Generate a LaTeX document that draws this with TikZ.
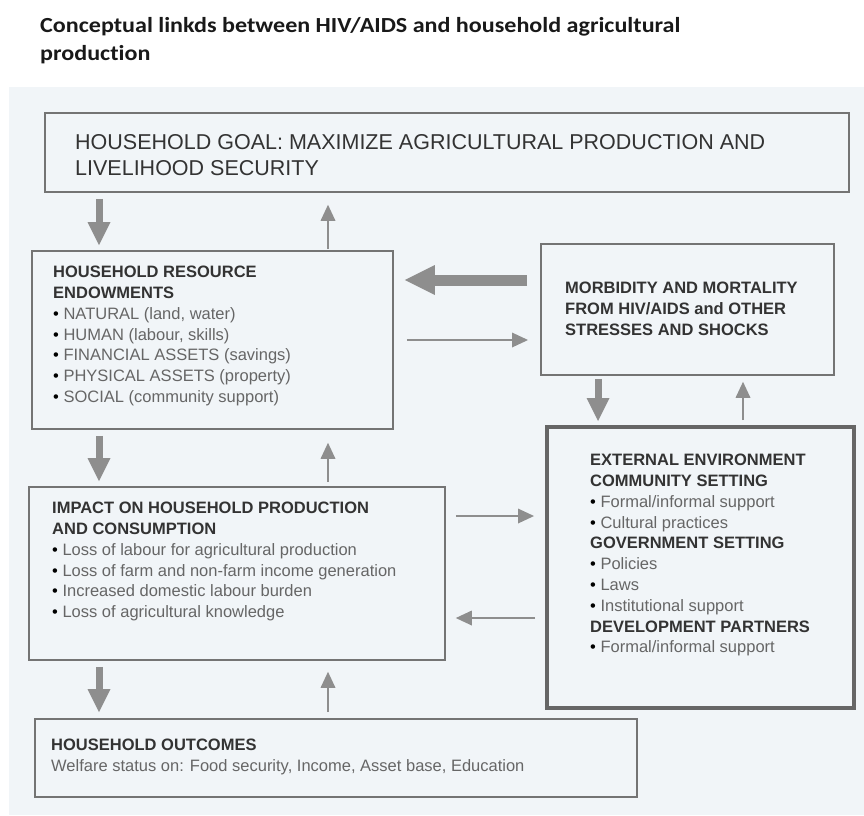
\documentclass[tikz,border=0pt]{standalone}
\usepackage{fontspec}
\setmainfont{Liberation Sans}
\newfontfamily\titlefont[Ligatures=NoCommon,FakeStretch=1.12]{Carlito}
\usetikzlibrary{arrows.meta}
\definecolor{panel}{HTML}{F1F5F8}
\definecolor{boxgray}{HTML}{747474}
\definecolor{extgray}{HTML}{666666}
\definecolor{arrowgray}{HTML}{8E8E8E}
\definecolor{headtxt}{HTML}{333333}
\definecolor{bodytxt}{HTML}{666666}
\newcommand\bitem[1]{{\color{black}\textbullet}~{\color{bodytxt}#1}}
\tikzset{
  box/.style={draw=boxgray, line width=1.8pt, anchor=north west, inner sep=0pt},
  extbox/.style={draw=extgray, line width=4pt, anchor=north west, inner sep=0pt},
  boxtext/.style={anchor=north west, inner sep=0pt, align=left, text=headtxt,
    font=\fontsize{16.5}{20.8}\selectfont},
  bigarrow/.style={draw=arrowgray, line width=7pt,
    -{Triangle[length=23pt,width=23pt,line width=0pt]}},
  hugearrow/.style={draw=arrowgray, line width=11pt,
    -{Triangle[length=30pt,width=30pt,line width=0pt]}},
  thinarrow/.style={draw=arrowgray, line width=1.5pt,
    -{Triangle[length=16pt,width=15pt,line width=0pt]}}
}
\begin{document}
\begin{tikzpicture}[x=1pt,y=-1pt]
\useasboundingbox (0,0) rectangle (864,815);
\fill[white] (0,0) rectangle (864,815);
\fill[panel] (9,87) rectangle (864,815);

% title
\node[anchor=north west, inner sep=0pt, align=left, text=black!90,
  font=\titlefont\bfseries\fontsize{21.5}{28}\selectfont] (title) at (40,17.5)
  {Conceptual linkds between HIV/AIDS and household agricultural\\production};

% boxes
\node[box, minimum width=804pt, minimum height=79pt] (goal) at (44,112) {};
\node[box, minimum width=361pt, minimum height=178pt] (res) at (31,250) {};
\node[box, minimum width=293pt, minimum height=131pt] (morb) at (540,243) {};
\node[box, minimum width=416pt, minimum height=173pt] (imp) at (28,486) {};
\node[extbox, minimum width=307pt, minimum height=281pt] (ext) at (545,425) {};
\node[box, minimum width=602pt, minimum height=78pt] (out) at (34,718) {};

% texts
\node[anchor=north west, inner sep=0pt, align=left, text=headtxt,
  font=\fontsize{21.5}{26}\selectfont] (goalt) at (75,134.5)
  {HOUSEHOLD GOAL: MAXIMIZE AGRICULTURAL PRODUCTION AND\\LIVELIHOOD SECURITY};
\node[boxtext] (rest) at (53,266)
  {\textbf{HOUSEHOLD RESOURCE}\\\textbf{ENDOWMENTS}\\
   \bitem{NATURAL (land, water)}\\
   \bitem{HUMAN (labour, skills)}\\
   \bitem{FINANCIAL ASSETS (savings)}\\
   \bitem{PHYSICAL ASSETS (property)}\\
   \bitem{SOCIAL (community support)}};
\node[boxtext] (morbt) at (565,282)
  {\textbf{MORBIDITY AND MORTALITY}\\\textbf{FROM HIV/AIDS and OTHER}\\\textbf{STRESSES AND SHOCKS}};
\node[boxtext] (impt) at (52,502)
  {\textbf{IMPACT ON HOUSEHOLD PRODUCTION}\\\textbf{AND CONSUMPTION}\\
   \bitem{Loss of labour for agricultural production}\\
   \bitem{Loss of farm and non-farm income generation}\\
   \bitem{Increased domestic labour burden}\\
   \bitem{Loss of agricultural knowledge}};
\node[boxtext] (extt) at (590,454)
  {\textbf{EXTERNAL ENVIRONMENT}\\\textbf{COMMUNITY SETTING}\\
   \bitem{Formal/informal support}\\
   \bitem{Cultural practices}\\
   \textbf{GOVERNMENT SETTING}\\
   \bitem{Policies}\\
   \bitem{Laws}\\
   \bitem{Institutional support}\\
   \textbf{DEVELOPMENT PARTNERS}\\
   \bitem{Formal/informal support}};
\node[boxtext] (outt) at (51,739)
  {\textbf{HOUSEHOLD OUTCOMES}\\{\color{bodytxt}Welfare status on: Food security, Income, Asset base, Education}};

% reference coordinates for arrow positions
\coordinate (xl) at (99,0);
\coordinate (xr) at (328,0);
\coordinate (xm) at (598,0);
\coordinate (xe) at (743,0);
\coordinate (ya) at (0,280);
\coordinate (yb) at (0,340);
\coordinate (yc) at (0,516);
\coordinate (yd) at (0,618);

% connectors
\draw[bigarrow, shorten <=6pt, shorten >=5pt] (goal.south -| xl) -- (res.north -| xl);
\draw[thinarrow, shorten <=1pt, shorten >=12pt] (res.north -| xr) -- (goal.south -| xr);
\draw[bigarrow, shorten <=6pt, shorten >=5pt] (res.south -| xl) -- (imp.north -| xl);
\draw[thinarrow, shorten <=4pt, shorten >=13pt] (imp.north -| xr) -- (res.south -| xr);
\draw[bigarrow, shorten <=6pt, shorten >=6pt] (imp.south -| xl) -- (out.north -| xl);
\draw[thinarrow, shorten <=6pt, shorten >=11pt] (out.north -| xr) -- (imp.south -| xr);
\draw[hugearrow, shorten <=13pt, shorten >=11pt] (morb.west |- ya) -- (res.east |- ya);
\draw[thinarrow, shorten <=13pt, shorten >=12pt] (res.east |- yb) -- (morb.west |- yb);
\draw[thinarrow, shorten <=10pt, shorten >=11pt] (imp.east |- yc) -- (ext.west |- yc);
\draw[thinarrow, shorten <=10pt, shorten >=10pt] (ext.west |- yd) -- (imp.east |- yd);
\draw[bigarrow, shorten <=3pt, shorten >=4pt] (morb.south -| xm) -- (ext.north -| xm);
\draw[thinarrow, shorten <=5pt, shorten >=6pt] (ext.north -| xe) -- (morb.south -| xe);
\end{tikzpicture}
\end{document}
